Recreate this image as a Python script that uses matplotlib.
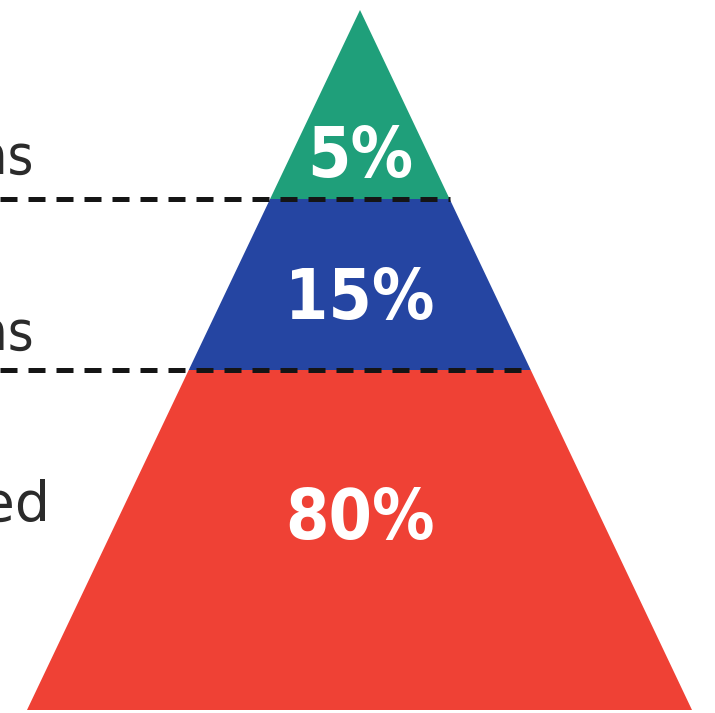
import numpy as np
import matplotlib
matplotlib.use("Agg")
import matplotlib.pyplot as plt
from matplotlib.patches import Polygon

# data: tiers from top to bottom
tier_labels = ["Transformations", "Adaptations", "Unchanged"]
tier_values = [5, 15, 80]
tier_colors = ["#1f9f7a", "#2545a2", "#ef4135"]

# layout of the pyramid in pixel space
W, H = 715, 713
apex = (360, 10)
base_y = 710
base_left, base_right = 27, 692
cut_ys = [10, 199, 370, 710]   # tier borders (top, ..., base)


def edge_x(y):
    t = (y - apex[1]) / (base_y - apex[1])
    left = apex[0] + (base_left - apex[0]) * t
    right = apex[0] + (base_right - apex[0]) * t
    return left, right


fig = plt.figure(figsize=(W / 100, H / 100), dpi=100)
ax = fig.add_axes([0, 0, 1, 1])
ax.set_xlim(0, W)
ax.set_ylim(H, 0)
ax.axis("off")

pct_y = [157, 300, 520]
lab_y = [159, 335, 506]
lab_x = [34, 34, 50]
lab_stretch = ["condensed", "condensed", "normal"]
for i, (lab, val, col) in enumerate(zip(tier_labels, tier_values, tier_colors)):
    y0, y1 = cut_ys[i], cut_ys[i + 1]
    l0, r0 = edge_x(y0)
    l1, r1 = edge_x(y1)
    ax.add_patch(Polygon([(l0, y0), (r0, y0), (r1, y1), (l1, y1)],
                         closed=True, facecolor=col, edgecolor="none"))
    ax.text(apex[0], pct_y[i], f"{val}%", color="white", fontsize=50,
            fontweight="bold", fontstretch="condensed", family="DejaVu Sans",
            ha="center", va="center")
    ax.text(lab_x[i], lab_y[i], lab, color="#2b2b2b", fontsize=40,
            fontstretch=lab_stretch[i], family="DejaVu Sans",
            ha="right", va="center")

# dashed separators
for y in cut_ys[1:3]:
    l, r = edge_x(y)
    ax.plot([0, r], [y, y], color="#151515", lw=3.6,
            linestyle=(0, (3.4, 2.2)), solid_capstyle="butt")

fig.savefig("out.png", dpi=100, facecolor="white")
